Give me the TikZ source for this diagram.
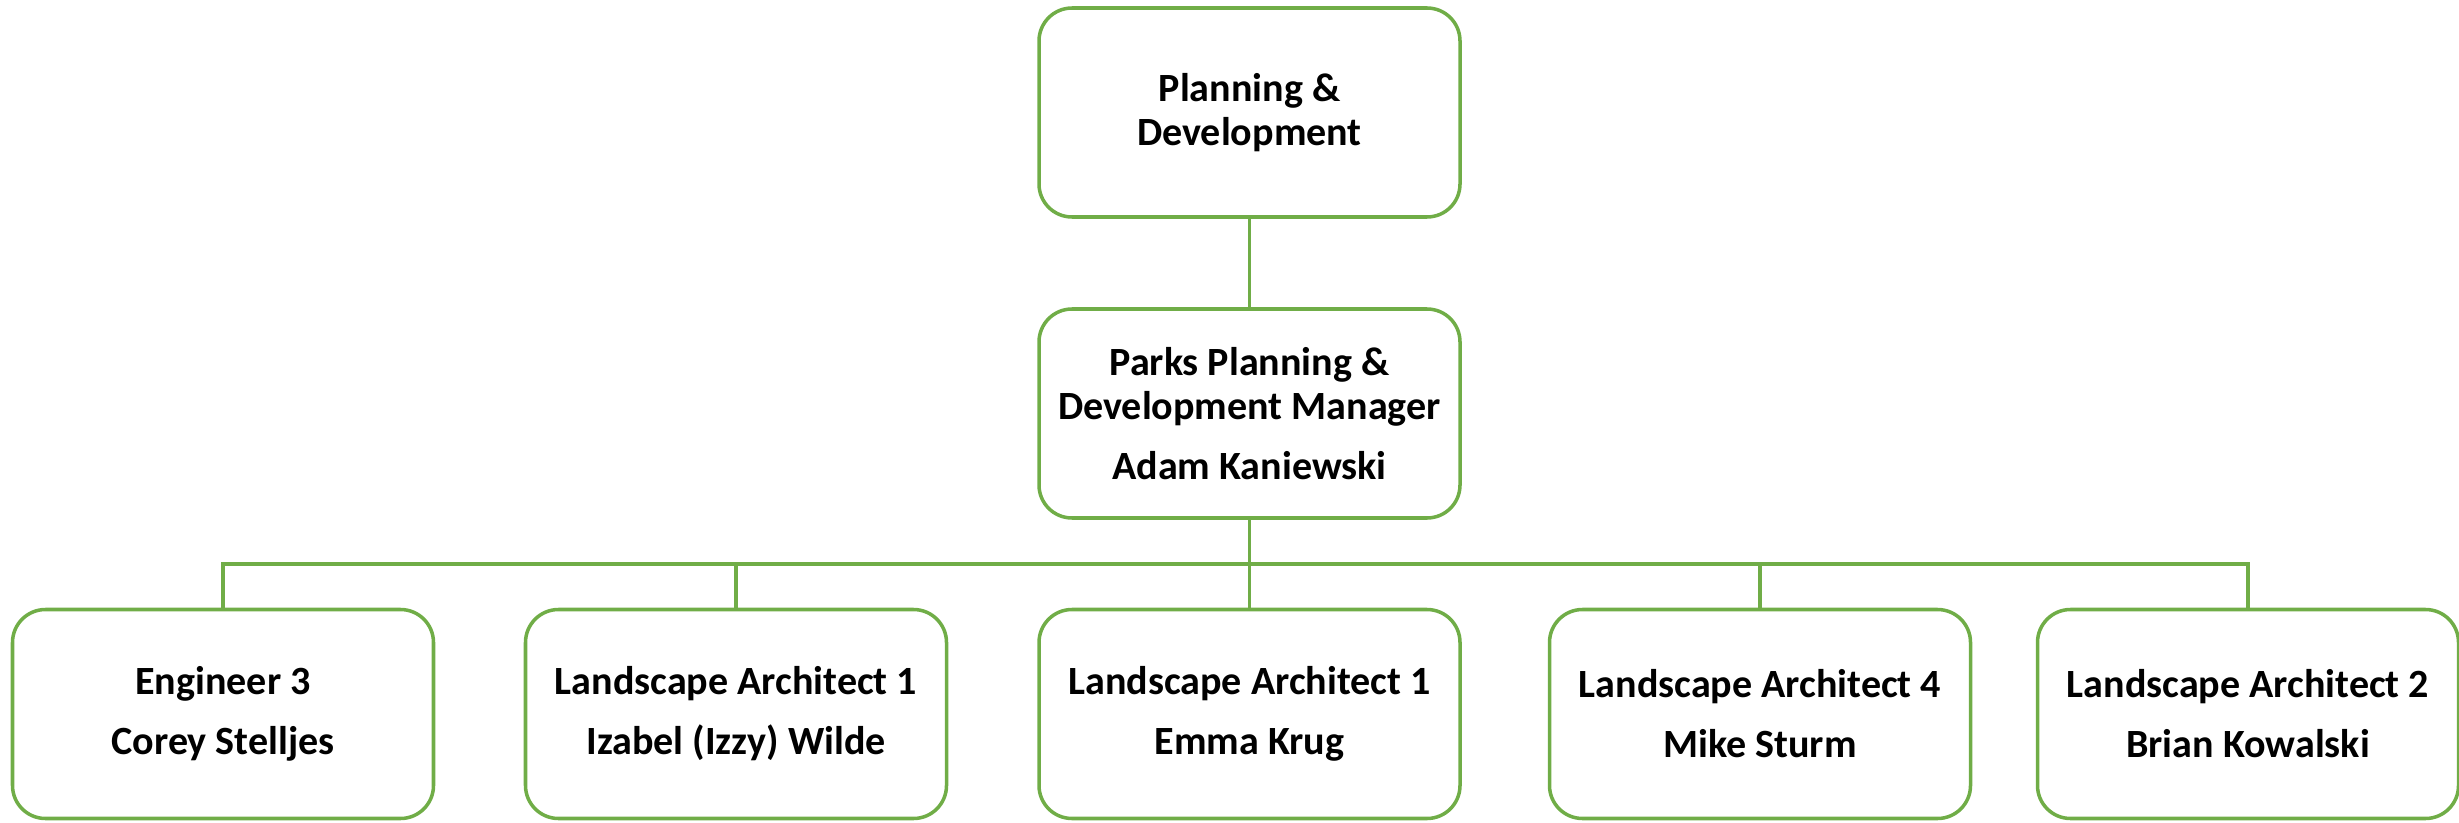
\documentclass[tikz,border=0pt]{standalone}
\usepackage{fontspec}
\setmainfont{Carlito}
\usepackage{tikz}

\definecolor{orggreen}{HTML}{70AD47}

\tikzset{
    unitbox/.style={draw=orggreen, line width=1pt, rounded corners=0.33cm,
        minimum width=4.21cm, minimum height=2.09cm, align=center,
        font=\fontsize{11.4}{12.6}\selectfont\bfseries, inner sep=2pt},
    orgline/.style={draw=orggreen, line width=1pt}
}

\begin{document}
\begin{tikzpicture}
            \useasboundingbox (0, 0) rectangle (24.59, 8.22);

            \node[unitbox] (dept) at (12.495, 7.095) {Planning \&\\Development};
            \node[unitbox] (mgr) at (12.495, 4.085) {Parks Planning \&\\Development Manager\\[4.5pt]Adam Kaniewski};

            \node[unitbox] (eng) at (2.23, 1.08) {Engineer 3\\[4.5pt]Corey Stelljes};
            \node[unitbox] (izzy) at (7.36, 1.08) {Landscape Architect 1\\[4.5pt]Izabel (Izzy) Wilde};
            \node[unitbox] (emma) at (12.495, 1.08) {Landscape Architect 1\\[4.5pt]Emma Krug};
            \node[unitbox] (mike) at (17.60, 1.08) {Landscape Architect 4\\[4.5pt]Mike Sturm};
            \node[unitbox] (brian) at (22.48, 1.08) {Landscape Architect 2\\[4.5pt]Brian Kowalski};

            \coordinate (bus) at (12.495, 2.58);

            \draw[orgline] (dept.south) -- (mgr.north);
            \draw[orgline] (mgr.south) -- (bus);
            \foreach \staff in {eng, izzy, emma, mike, brian}
                \draw[orgline] (bus) -| (\staff.north);
        \end{tikzpicture}
\end{document}
